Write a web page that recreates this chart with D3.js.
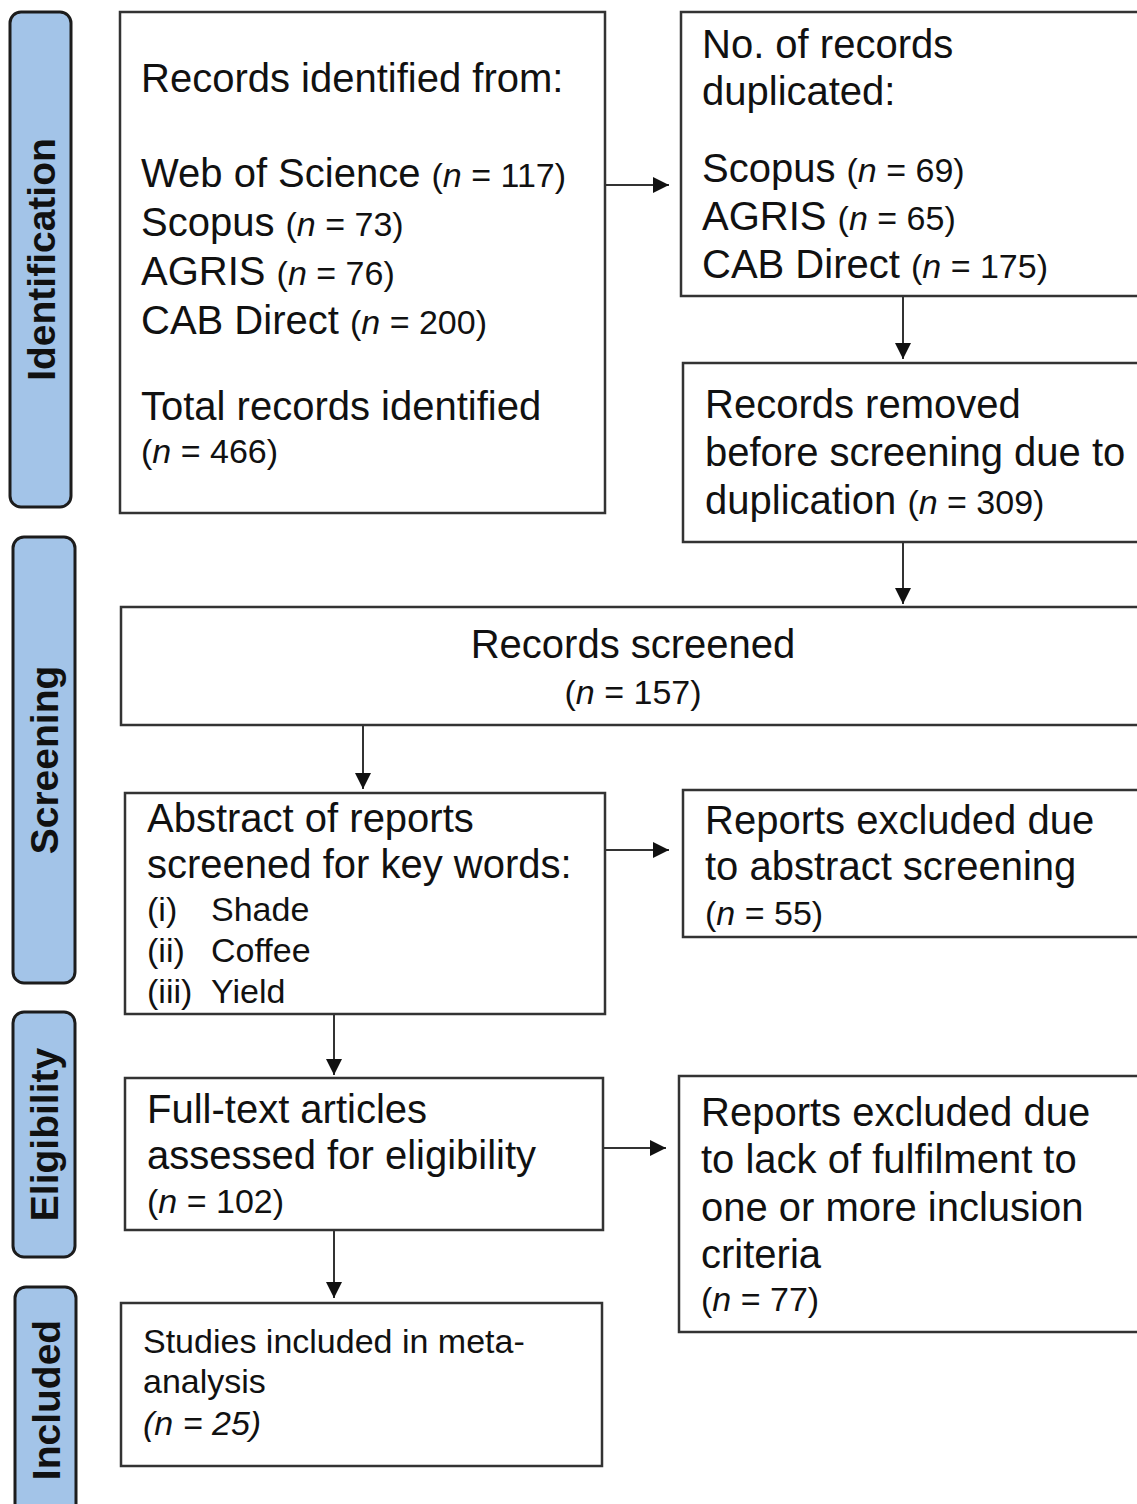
<!DOCTYPE html>
<html>
<head>
<meta charset="utf-8">
<script src="https://cdn.jsdelivr.net/npm/d3@7"></script>
<style>
  html, body { margin: 0; padding: 0; background: #fff; }
  svg { display: block; }
  text { font-family: "Liberation Sans", Arial, Helvetica, sans-serif; fill: #111; }
</style>
</head>
<body>
<svg id="chart" width="1137" height="1504"></svg>
<script>
// ---- Data ----
const stages = ["Identification", "Screening", "Eligibility", "Included"];
const idSources = ["Web of Science", "Scopus", "AGRIS", "CAB Direct"];
const idCounts = [117, 73, 76, 200];
const totalIdentified = 466;
const dupSources = ["Scopus", "AGRIS", "CAB Direct"];
const dupCounts = [69, 65, 175];
const removedDuplicates = 309;
const screenedCount = 157;
const keywordNums = ["(i)", "(ii)", "(iii)"];
const keywords = ["Shade", "Coffee", "Yield"];
const excludedAbstract = 55;
const fullTextCount = 102;
const excludedCriteria = 77;
const includedCount = 25;

// ---- Drawing ----
const svg = d3.select("#chart");
const BIG = 40, SMALL = 34;

// stage side labels
const stageRects = [
  {x: 10, y: 12, w: 61, h: 495},
  {x: 13, y: 537, w: 62, h: 446},
  {x: 13, y: 1012, w: 62, h: 245},
  {x: 15, y: 1287, w: 61, h: 240}
];
const sg = svg.append("g").selectAll("g").data(stages).join("g");
sg.append("rect")
  .attr("x", (d, i) => stageRects[i].x).attr("y", (d, i) => stageRects[i].y)
  .attr("width", (d, i) => stageRects[i].w).attr("height", (d, i) => stageRects[i].h)
  .attr("rx", 11).attr("fill", "#a3c4e8").attr("stroke", "#1c1c1c").attr("stroke-width", 3);
sg.append("text")
  .attr("transform", (d, i) => {
    const r = stageRects[i];
    const cy = i === 3 ? 1400 : r.y + r.h / 2;
    return `translate(${r.x + r.w / 2 + 14},${cy}) rotate(-90)`;
  })
  .attr("text-anchor", "middle")
  .attr("font-weight", "bold").attr("font-size", 39)
  .text(d => d);

// boxes
const boxes = [
  {x: 120, y: 12, w: 485, h: 501},
  {x: 681, y: 12, w: 470, h: 284},
  {x: 683, y: 363, w: 470, h: 179},
  {x: 121, y: 607, w: 1030, h: 118},
  {x: 125, y: 793, w: 480, h: 221},
  {x: 683, y: 790, w: 470, h: 147},
  {x: 125, y: 1078, w: 478, h: 152},
  {x: 679, y: 1076, w: 470, h: 256},
  {x: 121, y: 1303, w: 481, h: 163}
];
svg.append("g").selectAll("rect").data(boxes).join("rect")
  .attr("x", d => d.x).attr("y", d => d.y).attr("width", d => d.w).attr("height", d => d.h)
  .attr("fill", "#fff").attr("stroke", "#333").attr("stroke-width", 2.5);

// arrows
const defs = svg.append("defs");
defs.append("marker").attr("id", "ah").attr("viewBox", "0 0 10 10")
  .attr("refX", 10).attr("refY", 5).attr("markerWidth", 17).attr("markerHeight", 16)
  .attr("markerUnits", "userSpaceOnUse").attr("orient", "auto")
  .append("path").attr("d", "M0,0 L10,5 L0,10 Z").attr("fill", "#111");
const arrows = [
  [605, 185, 669, 185],
  [903, 296, 903, 359],
  [903, 542, 903, 604],
  [363, 725, 363, 789],
  [605, 850, 669, 850],
  [334, 1014, 334, 1075],
  [603, 1148, 666, 1148],
  [334, 1230, 334, 1298]
];
svg.append("g").selectAll("line").data(arrows).join("line")
  .attr("x1", d => d[0]).attr("y1", d => d[1]).attr("x2", d => d[2]).attr("y2", d => d[3])
  .attr("stroke", "#333").attr("stroke-width", 2).attr("marker-end", "url(#ah)");

// text helper: parts = [[text, size, italic]]
const tg = svg.append("g");
function line(x, y, parts, anchor) {
  const t = tg.append("text").attr("x", x).attr("y", y)
    .attr("text-anchor", anchor || "start");
  parts.forEach(p => {
    t.append("tspan").attr("font-size", p[1] || BIG)
      .attr("font-style", p[2] ? "italic" : "normal").text(p[0]);
  });
  return t;
}
function nParts(v, size, allItalic) {
  const s = size || SMALL;
  return [["(", s, allItalic], ["n", s, true], [" = " + v + ")", s, allItalic]];
}

// Box A
line(141, 92, [["Records identified from:"]]);
idSources.forEach((s, i) => {
  line(141, 187 + i * 49, [[s + " "]].concat(nParts(idCounts[i])));
});
line(141, 420, [["Total records identified"]]);
line(141, 463, nParts(totalIdentified));

// Box B
line(702, 58, [["No. of records"]]);
line(702, 105, [["duplicated:"]]);
dupSources.forEach((s, i) => {
  line(702, 182 + i * 48, [[s + " "]].concat(nParts(dupCounts[i])));
});

// Box C
line(705, 418, [["Records removed"]]);
line(705, 466, [["before screening due to"]]);
line(705, 514, [["duplication "]].concat(nParts(removedDuplicates)));

// Box D
line(633, 658, [["Records screened"]], "middle");
line(633, 704, nParts(screenedCount), "middle");

// Box E
line(147, 832, [["Abstract of reports"]]);
line(147, 878, [["screened for key words:"]]);
keywords.forEach((k, i) => {
  line(147, 921 + i * 41, [[keywordNums[i], SMALL]]);
  line(211, 921 + i * 41, [[k, SMALL]]);
});

// Box F
line(705, 834, [["Reports excluded due"]]);
line(705, 880, [["to abstract screening"]]);
line(705, 925, nParts(excludedAbstract));

// Box G
line(147, 1123, [["Full-text articles"]]);
line(147, 1169, [["assessed for eligibility"]]);
line(147, 1213, nParts(fullTextCount));

// Box H
line(701, 1126, [["Reports excluded due"]]);
line(701, 1173, [["to lack of fulfilment to"]]);
line(701, 1221, [["one or more inclusion"]]);
line(701, 1268, [["criteria"]]);
line(701, 1311, nParts(excludedCriteria));

// Box I
line(143, 1353, [["Studies included in meta-", SMALL]]);
line(143, 1393, [["analysis", SMALL]]);
line(143, 1435, nParts(includedCount, SMALL, true));
</script>
</body>
</html>
